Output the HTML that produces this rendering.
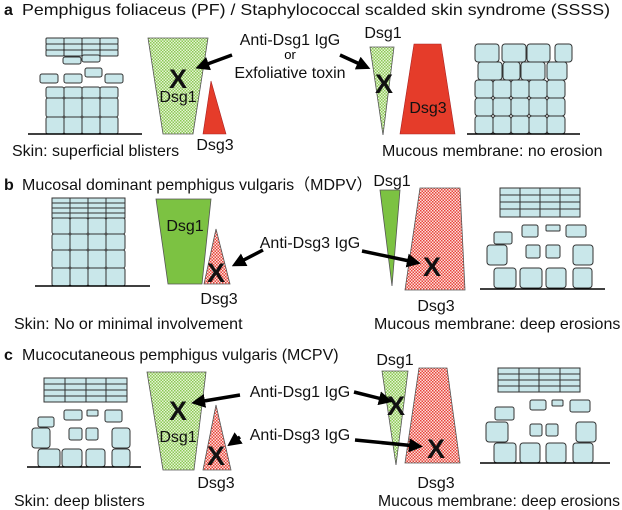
<!DOCTYPE html>
<html><head><meta charset="utf-8"><style>
html,body{margin:0;padding:0;background:#fff;}
svg{display:block;font-family:"Liberation Sans","Noto Sans CJK JP",sans-serif;}
.c{fill:#c9e7ea;stroke:#333;stroke-width:1;}
.t{font-size:16px;fill:#111;}
.h{font-size:16px;fill:#111;}
.x{font-size:27px;font-weight:bold;fill:#111;text-anchor:middle;}
.m{text-anchor:middle;}
.a{stroke:#000;stroke-width:3.5;marker-end:url(#ah);}
.bl{stroke:#000;stroke-width:1.5;}
</style></head><body>
<svg width="622" height="510" viewBox="0 0 622 510" xmlns="http://www.w3.org/2000/svg">
<defs>
<pattern id="gp" width="3" height="3" patternUnits="userSpaceOnUse"><rect width="3" height="3" fill="#e6f4d6"/><rect width="1.5" height="1.5" fill="#8cc955"/><rect x="1.5" y="1.5" width="1.5" height="1.5" fill="#8cc955"/></pattern>
<pattern id="rp" width="3" height="3" patternUnits="userSpaceOnUse"><rect width="3" height="3" fill="#fbe0dc"/><rect width="1.5" height="1.5" fill="#e8453a"/><rect x="1.5" y="1.5" width="1.5" height="1.5" fill="#e8453a"/></pattern>
<marker id="ah" markerWidth="4" markerHeight="4" refX="2" refY="2" orient="auto"><polygon points="0,0 4,2 0,4" fill="#000"/></marker>
</defs>

<!-- PANEL A -->
<text x="4" y="15" class="h" font-weight="bold">a</text>
<text x="22" y="15" class="h" textLength="588" lengthAdjust="spacingAndGlyphs">Pemphigus foliaceus (PF) / Staphylococcal scalded skin syndrome (SSSS)</text>
<g>
<rect class="c" x="46" y="38" width="18" height="6" rx="1"/><rect class="c" x="64" y="38" width="18" height="6" rx="1"/><rect class="c" x="82" y="38" width="18" height="6" rx="1"/><rect class="c" x="100" y="38" width="18" height="6" rx="1"/>
<rect class="c" x="46" y="44" width="18" height="6" rx="1"/><rect class="c" x="64" y="44" width="18" height="6" rx="1"/><rect class="c" x="82" y="44" width="18" height="6" rx="1"/><rect class="c" x="100" y="44" width="18" height="6" rx="1"/>
<rect class="c" x="46" y="50" width="18" height="6" rx="1"/><rect class="c" x="64" y="50" width="18" height="6" rx="1"/><rect class="c" x="82" y="50" width="18" height="6" rx="1"/><rect class="c" x="100" y="50" width="18" height="6" rx="1"/>
<rect class="c" x="63" y="57" width="18" height="7" rx="2"/><rect class="c" x="82" y="55" width="18" height="7" rx="2"/>
<rect class="c" x="40" y="74" width="18" height="9" rx="2"/><rect class="c" x="64" y="74" width="18" height="9" rx="2"/><rect class="c" x="85" y="68" width="17" height="9" rx="2"/><rect class="c" x="105" y="74" width="18" height="9" rx="2"/>
<rect class="c" x="46" y="87" width="18" height="11" rx="2"/><rect class="c" x="64" y="87" width="18" height="11" rx="2"/><rect class="c" x="82" y="87" width="18" height="11" rx="2"/><rect class="c" x="100" y="87" width="18" height="11" rx="2"/>
<rect class="c" x="46" y="98" width="18" height="19" rx="2"/><rect class="c" x="64" y="98" width="18" height="19" rx="2"/><rect class="c" x="82" y="98" width="18" height="19" rx="2"/><rect class="c" x="100" y="98" width="18" height="19" rx="2"/>
<rect class="c" x="46" y="117" width="18" height="17" rx="2"/><rect class="c" x="64" y="117" width="18" height="17" rx="2"/><rect class="c" x="82" y="117" width="18" height="17" rx="2"/><rect class="c" x="100" y="117" width="18" height="17" rx="2"/>
<line class="bl" x1="28" y1="134" x2="142" y2="134"/>
</g>
<polygon points="148,38 208,38 193,134 163,134" fill="url(#gp)" stroke="#555" stroke-width="0.8"/>
<text x="178" y="88" class="x">X</text>
<text x="178" y="102" class="t m">Dsg1</text>
<polygon points="211,81 226,134 203,134" fill="#e53c2a" stroke="#a22" stroke-width="0.6"/>
<text x="215" y="150" class="t m">Dsg3</text>
<text x="12" y="156" class="t">Skin: superficial blisters</text>
<text x="290" y="45" class="t m">Anti-Dsg1 IgG</text>
<text x="290" y="59" class="m" font-size="13">or</text>
<text x="290" y="78" class="t m">Exfoliative toxin</text>
<text x="383" y="38" class="t m">Dsg1</text>
<polygon points="370,47 394,47 383,135" fill="url(#gp)" stroke="#555" stroke-width="0.8"/>
<text x="384" y="93" class="x">X</text>
<polygon points="414,44 441,44 455,134 400,134" fill="#e53c2a" stroke="#a22" stroke-width="0.6"/>
<text x="428" y="113" class="t m">Dsg3</text>
<g>
<rect class="c" x="475" y="44" width="24" height="18" rx="3"/><rect class="c" x="502" y="44" width="24" height="18" rx="3"/><rect class="c" x="527" y="44" width="23" height="18" rx="3"/><rect class="c" x="555" y="44" width="17" height="18" rx="3"/>
<rect class="c" x="478" y="62" width="24" height="18" rx="3"/><rect class="c" x="503" y="62" width="17" height="18" rx="3"/><rect class="c" x="521" y="62" width="24" height="18" rx="3"/><rect class="c" x="547" y="62" width="20" height="18" rx="3"/>
<rect class="c" x="475" y="80" width="18" height="18" rx="3"/><rect class="c" x="493" y="80" width="18" height="18" rx="3"/><rect class="c" x="511" y="80" width="18" height="18" rx="3"/><rect class="c" x="529" y="80" width="18" height="18" rx="3"/><rect class="c" x="547" y="80" width="18" height="18" rx="3"/>
<rect class="c" x="475" y="98" width="18" height="18" rx="3"/><rect class="c" x="493" y="98" width="18" height="18" rx="3"/><rect class="c" x="511" y="98" width="18" height="18" rx="3"/><rect class="c" x="529" y="98" width="18" height="18" rx="3"/><rect class="c" x="547" y="98" width="18" height="18" rx="3"/>
<rect class="c" x="475" y="116" width="18" height="18" rx="3"/><rect class="c" x="493" y="116" width="18" height="18" rx="3"/><rect class="c" x="511" y="116" width="18" height="18" rx="3"/><rect class="c" x="529" y="116" width="18" height="18" rx="3"/><rect class="c" x="547" y="116" width="18" height="18" rx="3"/>
<line class="bl" x1="467" y1="134" x2="580" y2="134"/>
</g>
<text x="382" y="156" class="t">Mucous membrane: no erosion</text>

<!-- PANEL B -->
<text x="4" y="190" class="h" font-weight="bold">b</text>
<text x="22" y="190" class="h">Mucosal dominant pemphigus vulgaris（MDPV）</text>
<g>
<rect class="c" x="52" y="198" width="18" height="5"/><rect class="c" x="70" y="198" width="18" height="5"/><rect class="c" x="88" y="198" width="18" height="5"/><rect class="c" x="106" y="198" width="19" height="5"/>
<rect class="c" x="52" y="203" width="18" height="5"/><rect class="c" x="70" y="203" width="18" height="5"/><rect class="c" x="88" y="203" width="18" height="5"/><rect class="c" x="106" y="203" width="19" height="5"/>
<rect class="c" x="52" y="208" width="18" height="5"/><rect class="c" x="70" y="208" width="18" height="5"/><rect class="c" x="88" y="208" width="18" height="5"/><rect class="c" x="106" y="208" width="19" height="5"/>
<rect class="c" x="52" y="213" width="18" height="5"/><rect class="c" x="70" y="213" width="18" height="5"/><rect class="c" x="88" y="213" width="18" height="5"/><rect class="c" x="106" y="213" width="19" height="5"/>
<rect class="c" x="52" y="218" width="18" height="16" rx="2"/><rect class="c" x="70" y="218" width="18" height="16" rx="2"/><rect class="c" x="88" y="218" width="18" height="16" rx="2"/><rect class="c" x="106" y="218" width="19" height="16" rx="2"/>
<rect class="c" x="52" y="234" width="18" height="16" rx="2"/><rect class="c" x="70" y="234" width="18" height="16" rx="2"/><rect class="c" x="88" y="234" width="18" height="16" rx="2"/><rect class="c" x="106" y="234" width="19" height="16" rx="2"/>
<rect class="c" x="52" y="250" width="18" height="18" rx="2"/><rect class="c" x="70" y="250" width="18" height="18" rx="2"/><rect class="c" x="88" y="250" width="18" height="18" rx="2"/><rect class="c" x="106" y="250" width="19" height="18" rx="2"/>
<rect class="c" x="52" y="268" width="18" height="18" rx="2"/><rect class="c" x="70" y="268" width="18" height="18" rx="2"/><rect class="c" x="88" y="268" width="18" height="18" rx="2"/><rect class="c" x="106" y="268" width="19" height="18" rx="2"/>
<line class="bl" x1="35" y1="286" x2="150" y2="286"/>
</g>
<polygon points="156,199 211,199 202,284 168,284" fill="#7cc242" stroke="#555" stroke-width="0.8"/>
<text x="185" y="231" class="t m">Dsg1</text>
<polygon points="216,229 230,284 204,284" fill="url(#rp)" stroke="#555" stroke-width="0.8"/>
<text x="216" y="282" class="x">X</text>
<text x="219" y="304" class="t m">Dsg3</text>
<text x="310" y="248" class="t m">Anti-Dsg3 IgG</text>
<text x="392" y="186" class="t m">Dsg1</text>
<polygon points="380,190 400,190 392,286" fill="#7cc242" stroke="#555" stroke-width="0.8"/>
<polygon points="420,188 460,188 465,290 405,290" fill="url(#rp)" stroke="#555" stroke-width="0.8"/>
<text x="432" y="276" class="x">X</text>
<text x="436" y="311" class="t m">Dsg3</text>
<g>
<rect class="c" x="500" y="188" width="20" height="7"/><rect class="c" x="520" y="188" width="20" height="7"/><rect class="c" x="540" y="188" width="20" height="7"/><rect class="c" x="560" y="188" width="20" height="7"/>
<rect class="c" x="500" y="195" width="20" height="7"/><rect class="c" x="520" y="195" width="20" height="7"/><rect class="c" x="540" y="195" width="20" height="7"/><rect class="c" x="560" y="195" width="20" height="7"/>
<rect class="c" x="500" y="202" width="20" height="7"/><rect class="c" x="520" y="202" width="20" height="7"/><rect class="c" x="540" y="202" width="20" height="7"/><rect class="c" x="560" y="202" width="20" height="7"/>
<rect class="c" x="500" y="209" width="20" height="8"/><rect class="c" x="520" y="209" width="20" height="8"/><rect class="c" x="540" y="209" width="20" height="8"/><rect class="c" x="560" y="209" width="20" height="8"/>
<rect class="c" x="494" y="232" width="18" height="12" rx="2"/><rect class="c" x="522" y="225" width="16" height="12" rx="2"/><rect class="c" x="546" y="225" width="14" height="6" rx="1"/><rect class="c" x="566" y="225" width="20" height="12" rx="2"/>
<rect class="c" x="487" y="245" width="20" height="20" rx="3"/><rect class="c" x="526" y="245" width="14" height="13" rx="2"/><rect class="c" x="546" y="245" width="14" height="13" rx="2"/><rect class="c" x="573" y="245" width="20" height="20" rx="3"/>
<rect class="c" x="494" y="268" width="22" height="20" rx="3"/><rect class="c" x="520" y="268" width="22" height="20" rx="3"/><rect class="c" x="546" y="268" width="20" height="20" rx="3"/><rect class="c" x="573" y="268" width="19" height="20" rx="3"/>
<line class="bl" x1="480" y1="289" x2="605" y2="289"/>
</g>
<text x="14" y="329" class="t">Skin: No or minimal involvement</text>
<text x="374" y="329" class="t">Mucous membrane: deep erosions</text>

<!-- PANEL C -->
<text x="4" y="360" class="h" font-weight="bold">c</text>
<text x="22" y="360" class="h">Mucocutaneous pemphigus vulgaris (MCPV)</text>
<g>
<rect class="c" x="44" y="378" width="21" height="6"/><rect class="c" x="65" y="378" width="21" height="6"/><rect class="c" x="86" y="378" width="20" height="6"/><rect class="c" x="106" y="378" width="21" height="6"/>
<rect class="c" x="44" y="384" width="21" height="6"/><rect class="c" x="65" y="384" width="21" height="6"/><rect class="c" x="86" y="384" width="20" height="6"/><rect class="c" x="106" y="384" width="21" height="6"/>
<rect class="c" x="44" y="390" width="21" height="6"/><rect class="c" x="65" y="390" width="21" height="6"/><rect class="c" x="86" y="390" width="20" height="6"/><rect class="c" x="106" y="390" width="21" height="6"/>
<rect class="c" x="44" y="396" width="21" height="6"/><rect class="c" x="65" y="396" width="21" height="6"/><rect class="c" x="86" y="396" width="20" height="6"/><rect class="c" x="106" y="396" width="21" height="6"/>
<rect class="c" x="38" y="417" width="16" height="10" rx="2"/><rect class="c" x="64" y="410" width="18" height="10" rx="2"/><rect class="c" x="87" y="410" width="11" height="6" rx="1"/><rect class="c" x="105" y="410" width="17" height="12" rx="2"/>
<rect class="c" x="32" y="428" width="18" height="20" rx="3"/><rect class="c" x="69" y="428" width="13" height="12" rx="2"/><rect class="c" x="86" y="428" width="12" height="12" rx="2"/><rect class="c" x="112" y="428" width="18" height="20" rx="3"/>
<rect class="c" x="38" y="449" width="22" height="18" rx="3"/><rect class="c" x="62" y="449" width="20" height="18" rx="3"/><rect class="c" x="86" y="449" width="19" height="18" rx="3"/><rect class="c" x="112" y="449" width="18" height="18" rx="3"/>
<line class="bl" x1="27" y1="467" x2="141" y2="467"/>
</g>
<polygon points="147,372 206,372 194,470 163,470" fill="url(#gp)" stroke="#555" stroke-width="0.8"/>
<text x="178" y="420" class="x">X</text>
<text x="178" y="442" class="t m">Dsg1</text>
<polygon points="216,405 231,470 203,470" fill="url(#rp)" stroke="#555" stroke-width="0.8"/>
<text x="216" y="465" class="x">X</text>
<text x="216" y="488" class="t m">Dsg3</text>
<text x="300" y="397" class="t m">Anti-Dsg1 IgG</text>
<text x="300" y="440" class="t m">Anti-Dsg3 IgG</text>
<text x="395" y="365" class="t m">Dsg1</text>
<polygon points="382,371 408,371 396,465" fill="url(#gp)" stroke="#555" stroke-width="0.8"/>
<text x="396" y="415" class="x">X</text>
<polygon points="419,368 447,368 460,463 405,463" fill="url(#rp)" stroke="#555" stroke-width="0.8"/>
<text x="436" y="458" class="x">X</text>
<text x="436" y="488" class="t m">Dsg3</text>
<g>
<rect class="c" x="498" y="368" width="21" height="6"/><rect class="c" x="519" y="368" width="20" height="6"/><rect class="c" x="539" y="368" width="21" height="6"/><rect class="c" x="560" y="368" width="20" height="6"/>
<rect class="c" x="498" y="374" width="21" height="6"/><rect class="c" x="519" y="374" width="20" height="6"/><rect class="c" x="539" y="374" width="21" height="6"/><rect class="c" x="560" y="374" width="20" height="6"/>
<rect class="c" x="498" y="380" width="21" height="6"/><rect class="c" x="519" y="380" width="20" height="6"/><rect class="c" x="539" y="380" width="21" height="6"/><rect class="c" x="560" y="380" width="20" height="6"/>
<rect class="c" x="498" y="386" width="21" height="6"/><rect class="c" x="519" y="386" width="20" height="6"/><rect class="c" x="539" y="386" width="21" height="6"/><rect class="c" x="560" y="386" width="20" height="6"/>
<rect class="c" x="495" y="407" width="19" height="13" rx="2"/><rect class="c" x="530" y="400" width="16" height="10" rx="2"/><rect class="c" x="552" y="400" width="11" height="6" rx="1"/><rect class="c" x="570" y="400" width="20" height="12" rx="2"/>
<rect class="c" x="486" y="422" width="22" height="20" rx="3"/><rect class="c" x="530" y="424" width="12" height="12" rx="2"/><rect class="c" x="546" y="424" width="12" height="12" rx="2"/><rect class="c" x="576" y="422" width="20" height="20" rx="3"/>
<rect class="c" x="494" y="443" width="22" height="20" rx="3"/><rect class="c" x="520" y="443" width="20" height="20" rx="3"/><rect class="c" x="546" y="443" width="20" height="20" rx="3"/><rect class="c" x="573" y="443" width="20" height="20" rx="3"/>
<line class="bl" x1="480" y1="463" x2="610" y2="463"/>
</g>
<text x="14" y="506" class="t">Skin: deep blisters</text>
<text x="378" y="506" class="t" textLength="242" lengthAdjust="spacingAndGlyphs">Mucous membrane: deep erosions</text>

<!-- ARROWS (on top) -->
<line class="a" x1="232" y1="55" x2="202" y2="66"/>
<line class="a" x1="340" y1="55" x2="364" y2="66"/>
<line class="a" x1="263" y1="250" x2="238" y2="263"/>
<line class="a" x1="362" y1="251" x2="414" y2="262"/>
<line class="a" x1="240" y1="395" x2="198" y2="402"/>
<line class="a" x1="240" y1="437" x2="233" y2="442"/>
<line class="a" x1="354" y1="392" x2="386" y2="400"/>
<line class="a" x1="355" y1="440" x2="416" y2="446"/>
</svg>
</body></html>
